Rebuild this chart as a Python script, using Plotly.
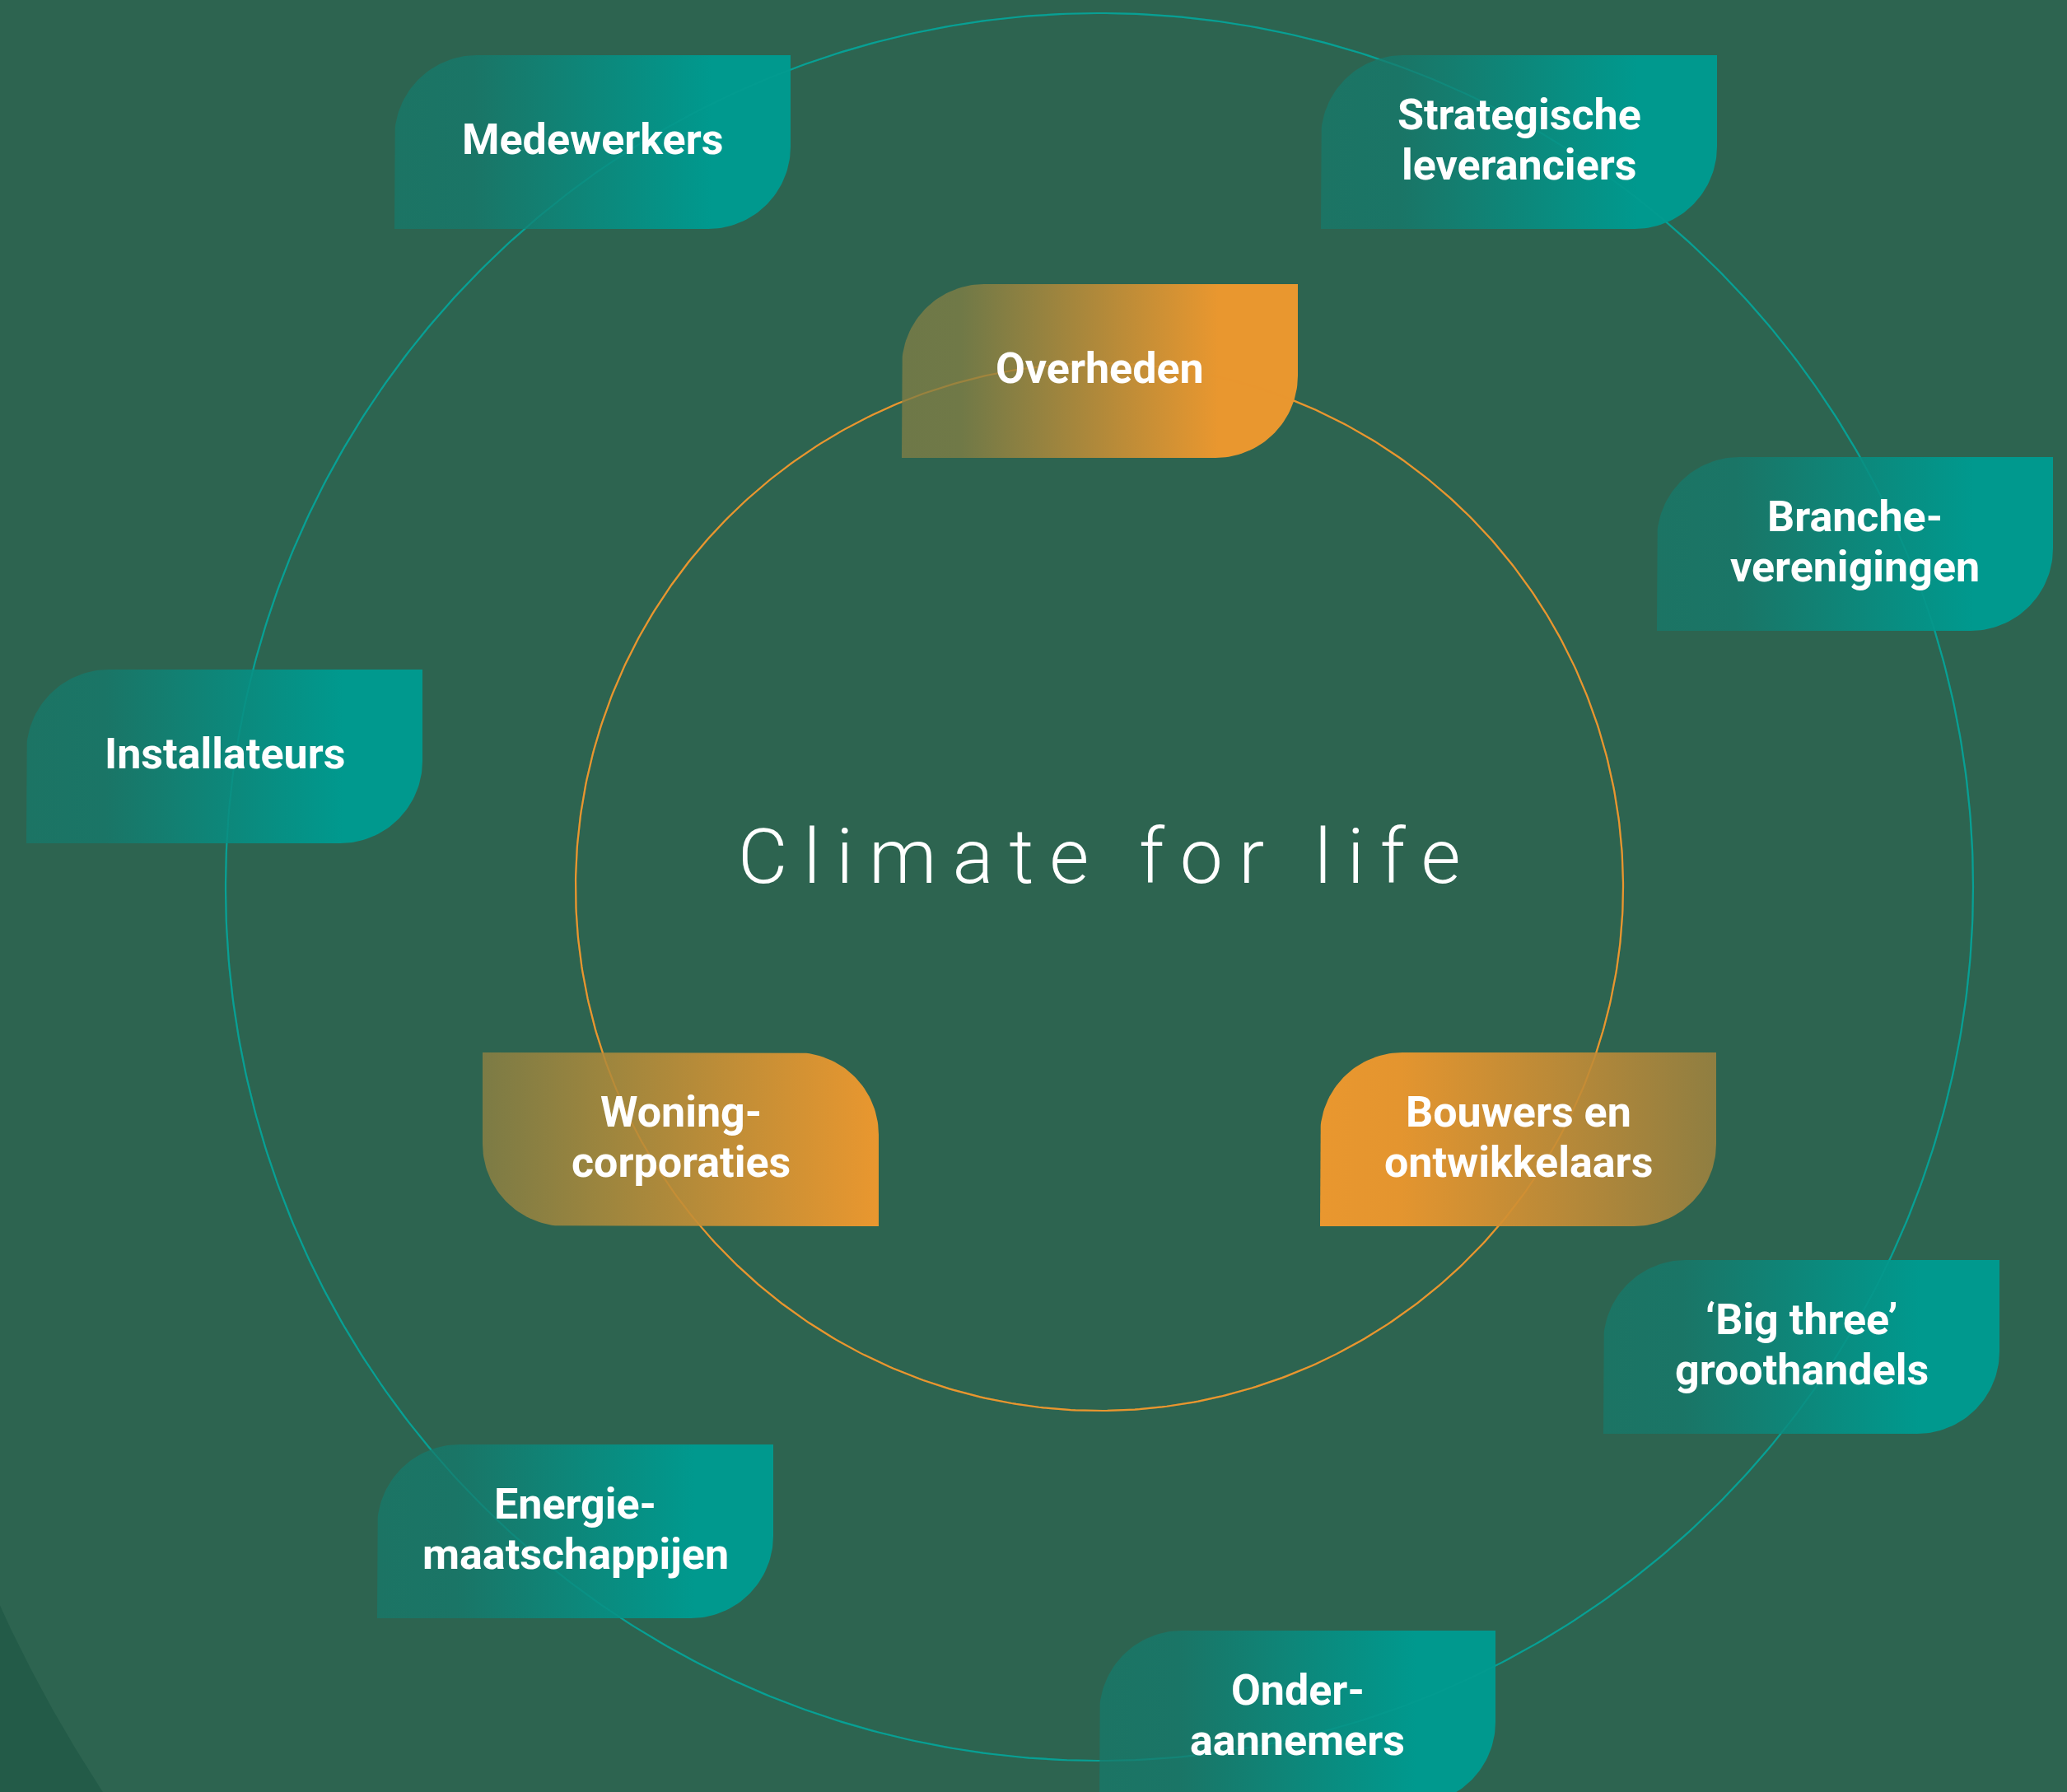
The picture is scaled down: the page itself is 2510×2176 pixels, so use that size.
import numpy as np
import plotly.graph_objects as go

# ---------------- data ----------------
outer_labels = ["Medewerkers", "Strategische\nleveranciers", "Branche-\nverenigingen",
                "Installateurs", "‘Big three’\ngroothandels", "Energie-\nmaatschappijen",
                "Onder-\naannemers"]
inner_labels = ["Overheden", "Woning-\ncorporaties", "Bouwers en\nontwikkelaars"]
center_title = "Climate for life"

# ---------------- layout geometry (pixels, y down) ----------------
W, H = 2510, 2176
CX, CY = 1335, 1077
R_OUT, R_IN = 1061, 636
BOX_W, BOX_H, RAD = 481, 211, 100

outer_boxes = [(479, 67), (1604, 67), (2012, 555), (32, 813), (1947, 1530), (458, 1754), (1335, 1980)]
inner_boxes = [(1095, 345), (586, 1278), (1603, 1278)]
inner_mirror = [False, True, False]

BG = "#2D6450"
BG_DARK = "#235B48"
TEAL_LINE = "#08A094"
ORANGE_LINE = "#E9962F"
teal_scale = [[0, "#1C7464"], [0.2, "#1A7566"], [0.8, "#00998E"], [1, "#00998E"]]
inner_scales = [
    [[0, "#6E7848"], [0.15, "#707947"], [0.8, "#E9972F"], [1, "#E9972F"]],
    [[0, "#7C7B45"], [0.3, "#9C853E"], [1, "#E9972F"]],
    [[0, "#E9972F"], [0.2, "#E4952F"], [1, "#8F7E41"]],
]


def leaf(x0, y0, r, mirror=False):
    x1, y1 = x0 + BOX_W, y0 + BOX_H
    n = 40
    xs, ys = [], []
    if not mirror:
        xs += [x0 + r, x1, x1]; ys += [y0, y0, y1 - r]
        t = np.linspace(0, np.pi / 2, n)
        xs += list(x1 - r + r * np.cos(t)); ys += list(y1 - r + r * np.sin(t))
        xs += [x0, x0]; ys += [y1, y0 + r]
        t = np.linspace(np.pi, 1.5 * np.pi, n)
        xs += list(x0 + r + r * np.cos(t)); ys += list(y0 + r + r * np.sin(t))
    else:
        xs += [x0, x1 - r]; ys += [y0, y0]
        t = np.linspace(-np.pi / 2, 0, n)
        xs += list(x1 - r + r * np.cos(t)); ys += list(y0 + r + r * np.sin(t))
        xs += [x1, x0 + r]; ys += [y1, y1]
        t = np.linspace(np.pi / 2, np.pi, n)
        xs += list(x0 + r + r * np.cos(t)); ys += list(y1 - r + r * np.sin(t))
        xs += [x0]; ys += [y0]
    return xs, ys


def circle(r, n=720):
    t = np.linspace(0, 2 * np.pi, n)
    return CX + r * np.cos(t), CY + r * np.sin(t)


fig = go.Figure()

# dark background arc in bottom-left
BCX, BCY, RB = 1546, 1243, 1700
yy = np.linspace(1880, 2200, 80)
xx = BCX - np.sqrt(np.maximum(RB ** 2 - (yy - BCY) ** 2, 0))
fig.add_trace(go.Scatter(x=list(xx) + [-60, -60], y=list(yy) + [2200, 1880], fill="toself",
                         fillcolor=BG_DARK, line=dict(width=0), mode="lines", hoverinfo="skip"))

# circles
for r, c in [(R_OUT, TEAL_LINE), (R_IN, ORANGE_LINE)]:
    x, y = circle(r)
    fig.add_trace(go.Scatter(x=x, y=y, mode="lines", line=dict(color=c, width=2.2), hoverinfo="skip"))

# boxes
for (x0, y0) in outer_boxes:
    xs, ys = leaf(x0, y0, RAD)
    fig.add_trace(go.Scatter(x=xs, y=ys, fill="toself", mode="lines", line=dict(width=0),
                             fillgradient=dict(type="horizontal", colorscale=teal_scale),
                             hoverinfo="skip"))
for (x0, y0), m, sc in zip(inner_boxes, inner_mirror, inner_scales):
    xs, ys = leaf(x0, y0, RAD, m)
    fig.add_trace(go.Scatter(x=xs, y=ys, fill="toself", mode="lines", line=dict(width=0),
                             fillgradient=dict(type="horizontal", colorscale=sc),
                             hoverinfo="skip"))

# faint circles seen through boxes
for r, c in [(R_OUT, TEAL_LINE), (R_IN, ORANGE_LINE)]:
    x, y = circle(r)
    fig.add_trace(go.Scatter(x=x, y=y, mode="lines", line=dict(color=c, width=2.2),
                             opacity=0.35, hoverinfo="skip"))

# labels
FS = 52
LS = 61
ann = []
for labels, boxes in [(outer_labels, outer_boxes), (inner_labels, inner_boxes)]:
    for lab, (x0, y0) in zip(labels, boxes):
        cx = x0 + BOX_W / 2
        cy = y0 + BOX_H / 2
        lines = lab.split("\n")
        n = len(lines)
        for i, ln in enumerate(lines):
            ly = cy + (i - (n - 1) / 2) * LS - 3
            ann.append(dict(x=cx, y=ly, text=ln, showarrow=False, xanchor="center", yanchor="middle",
                            font=dict(family="Roboto", size=FS, color="white", weight="bold")))

spaced = "\u2009".join(list(center_title))
ann.append(dict(x=CX, y=1040, text=spaced, showarrow=False, xanchor="center", yanchor="middle",
                font=dict(family="Roboto", size=93, color="white", weight=300)))

fig.update_layout(
    width=W, height=H, margin=dict(l=0, r=0, t=0, b=0),
    paper_bgcolor=BG, plot_bgcolor=BG, showlegend=False,
    xaxis=dict(range=[0, W], visible=False, fixedrange=True),
    yaxis=dict(range=[H, 0], visible=False, fixedrange=True),
    annotations=ann,
)

fig.write_html("out.html", config={"displayModeBar": False},
               post_script="document.body.style.margin='0';document.body.style.overflow='hidden';")
